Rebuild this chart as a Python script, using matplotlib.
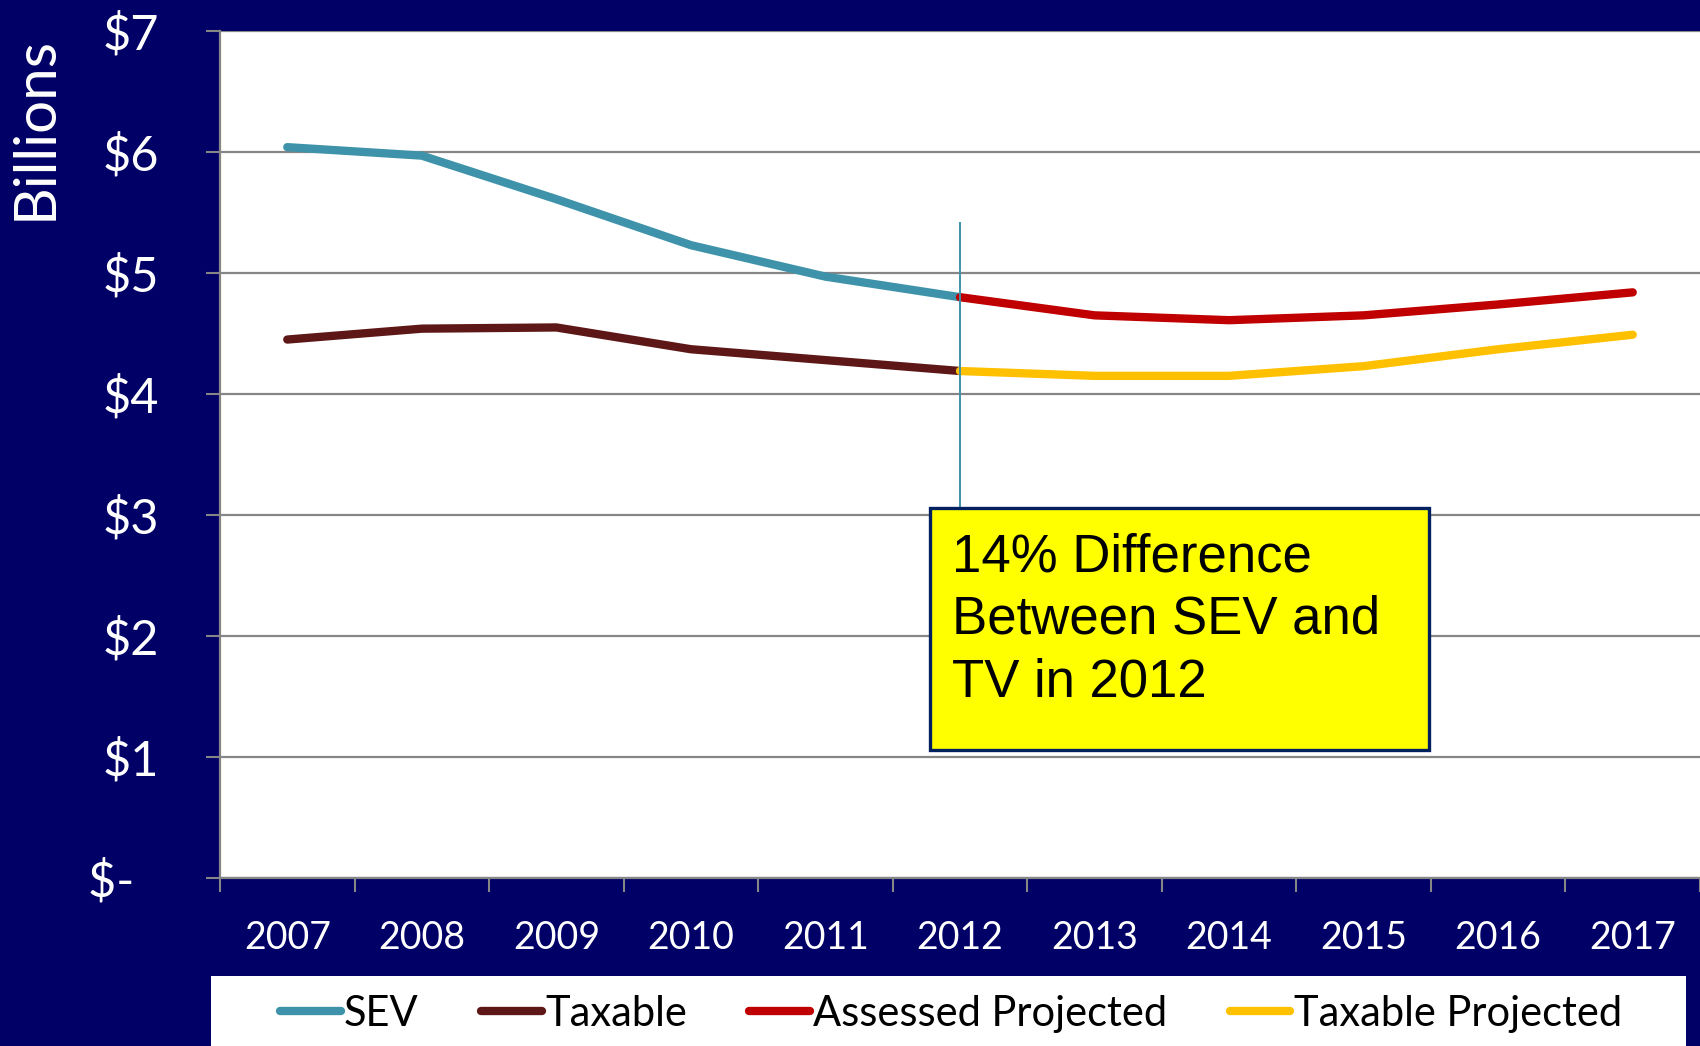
import matplotlib
matplotlib.use("Agg")
import matplotlib.pyplot as plt
from matplotlib.patches import Rectangle

# ---- data (billions of dollars) ----
years = ["2007", "2008", "2009", "2010", "2011", "2012",
         "2013", "2014", "2015", "2016", "2017"]
sev = [6.04, 5.97, 5.61, 5.23, 4.97, 4.80]
taxable = [4.45, 4.54, 4.55, 4.37, 4.28, 4.19]
assessed_projected = [4.80, 4.65, 4.61, 4.65, 4.74, 4.84]
taxable_projected = [4.19, 4.15, 4.15, 4.23, 4.37, 4.49]
y_ticks = [0, 1, 2, 3, 4, 5, 6, 7]
y_tick_labels = ["$-  ", "$1", "$2", "$3", "$4", "$5", "$6", "$7"]
marker_year = "2012"
marker_top = 5.42
marker_bottom = 3.06
note_text = "14% Difference\nBetween SEV and\nTV in 2012"

NAVY = "#000066"
GRID = "#868686"
TEAL = "#3E93AA"
MAROON = "#5E1717"
RED = "#C00000"
GOLD = "#FFC000"

W, H = 1700, 1046
fig = plt.figure(figsize=(W / 100, H / 100), dpi=100, facecolor=NAVY)
plt.rcParams["font.family"] = ["Lato", "DejaVu Sans"]

ax = fig.add_axes([220 / W, 1 - 878 / H, (W - 220) / W, (878 - 31) / H])
ax.set_facecolor("white")

xi = list(range(len(years)))
split = years.index(marker_year)
lw = 6.0
ax.plot(xi[:split + 1], sev, color=TEAL, lw=lw, solid_capstyle="round",
        label="SEV", zorder=3)
ax.plot(xi[:split + 1], taxable, color=MAROON, lw=lw, solid_capstyle="round",
        label="Taxable", zorder=3)
ax.plot(xi[split:], assessed_projected, color=RED, lw=lw,
        solid_capstyle="round", label="Assessed Projected", zorder=3)
ax.plot(xi[split:], taxable_projected, color=GOLD, lw=lw,
        solid_capstyle="round", label="Taxable Projected", zorder=3)

# pointer line from the 2012 gap down to the note box
ax.vlines(split, marker_bottom, marker_top, color=TEAL, lw=1.4, zorder=4)

ax.set_xlim(-0.5, len(years) - 0.5)
ax.set_ylim(0, 7)

# category boundaries carry the tick marks, centres carry the labels
ax.set_xticks([i - 0.5 for i in range(len(years) + 1)])
ax.set_xticklabels([])
ax.set_xticks(xi, minor=True)
ax.set_xticklabels(years, minor=True, color="white", fontsize=27)
ax.tick_params(axis="x", which="major", direction="out", length=10,
               width=1.5, color=GRID)
ax.tick_params(axis="x", which="minor", length=0, pad=30)

ax.set_yticks(y_ticks)
ax.set_yticklabels(y_tick_labels, color="white", fontsize=35)
ax.tick_params(axis="y", direction="out", length=10, width=1.5, color=GRID,
               pad=34)

ax.yaxis.grid(True, color=GRID, lw=1.6, zorder=1)
ax.set_axisbelow(True)
for side in ("top", "right"):
    ax.spines[side].set_visible(False)
for side in ("left", "bottom"):
    ax.spines[side].set_color(GRID)
    ax.spines[side].set_linewidth(1.6)

fig.text(35 / W, 1 - 128 / H, "Billions", rotation=90, color="white",
         fontsize=42, ha="center", va="center")

# note box
box = Rectangle((930 / W, 1 - 750 / H), 499 / W, 242 / H,
                transform=fig.transFigure, facecolor="#FFFF00",
                edgecolor="#002060", lw=2.4, zorder=5, clip_on=False)
ax.add_patch(box)
fig.text(952 / W, 1 - 532 / H, note_text, family="Liberation Sans",
         fontsize=38, color="black", ha="left", va="top", linespacing=1.33,
         zorder=6)

# legend strip
fig.add_artist(Rectangle((211 / W, 0), (1686 - 211) / W, 70 / H,
                         transform=fig.transFigure, facecolor="white",
                         edgecolor="none", zorder=0))
handles, labels = ax.get_legend_handles_labels()
leg = fig.legend(handles, labels, loc="center", ncol=4,
                 bbox_to_anchor=(951 / W, 1 - 1014 / H), frameon=False,
                 fontsize=30, handlelength=1.45, handletextpad=0.08,
                 columnspacing=1.5, borderpad=0)
for t in leg.get_texts():
    t.set_color("black")

fig.savefig("out.png", dpi=100, facecolor=NAVY)
